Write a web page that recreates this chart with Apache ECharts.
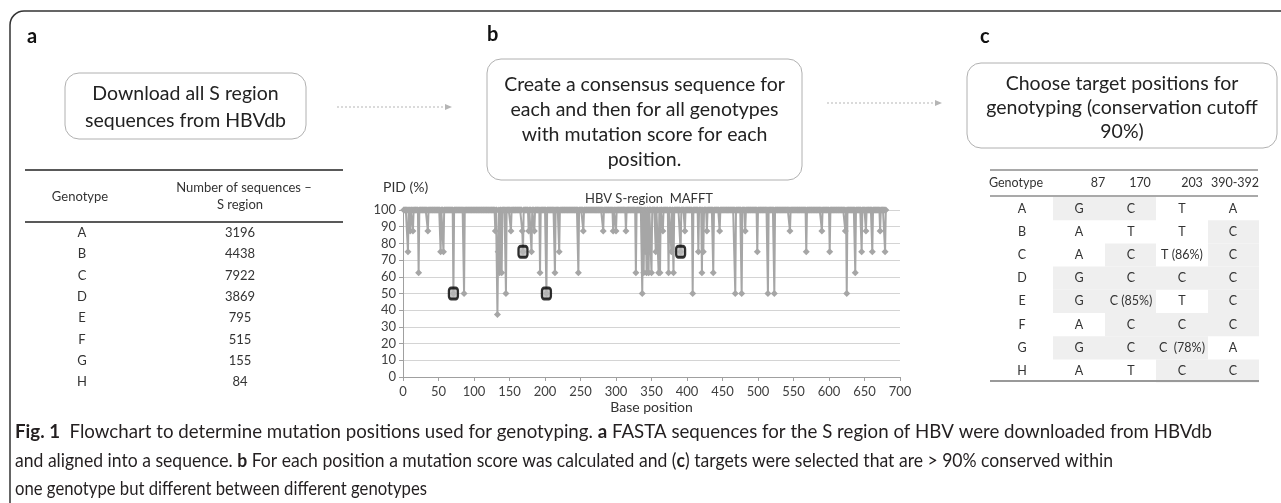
<!DOCTYPE html>
<html>
<head>
<meta charset="utf-8">
<script src="https://cdn.jsdelivr.net/npm/echarts@6/dist/echarts.min.js"></script>
<style>
html,body{margin:0;padding:0;background:#fff;}
#main{width:1281px;height:503px;}
</style>
</head>
<body>
<div id="main"></div>
<script>
// ---- panel b : PID per base position (100 everywhere except the dips below)
var seqLength = 680;
var dips = [
    [7,75],[10,87.5],[14,87.5],[22,62.5],[35,87.5],[53,75],[57,75],[71,50],[86,50],
    [130,87.5],[133,37.5],[134,75],[136,62.5],[139,62.5],[145,50],[152,87.5],
    [168,87.5],[169,75],[177,87.5],[181,75],[185,87.5],[193,62.5],[202,50],[214,62.5],[220,75],
    [247,62.5],[254,87.5],[282,87.5],[296,87.5],[300,87.5],[314,87.5],[328,62.5],
    [337,50],[339,62.5],[341,75],[343,62.5],[346,62.5],[350,62.5],[356,75],[360,62.5],[362,62.5],
    [366,87.5],[374,62.5],[378,75],[381,62.5],[391,75],[397,87.5],[408,50],[416,75],[421,62.5],
    [423,75],[428,87.5],[437,62.5],[446,87.5],[468,50],[477,50],[482,87.5],[499,75],[514,50],
    [523,50],[545,87.5],[568,75],[590,87.5],[601,75],[623,87.5],[625,50],[637,62.5],[646,75],
    [652,87.5],[661,75],[672,87.5],[679,75]
];
// highlighted target positions (black boxes)
var targets = [[71,50],[169,75],[202,50],[391,75]];

// ---- panel a : sequences per genotype
var genotypes = ['A','B','C','D','E','F','G','H'];
var seqCounts = [3196,4438,7922,3869,795,515,155,84];

// ---- panel c : target positions
var targetCols = ['87','170','203','390-392'];
var targetRows = [
    ['G','C','T','A'],
    ['A','T','T','C'],
    ['A','C','T (86%)','C'],
    ['G','C','C','C'],
    ['G','C (85%)','T','C'],
    ['A','C','C','C'],
    ['G','C','C  (78%)','A'],
    ['A','T','C','C']
];

var boxA = ['Download all S region','sequences from HBVdb'];
var boxB = ['Create a consensus sequence for','each and then for all genotypes','with mutation score for each','position.'];
var boxC = ['Choose target positions for','genotyping (conservation cutoff','90%)'];

var caption = [
    [['Fig. 1',1],['  Flowchart to determine mutation positions used for genotyping. ',0],['a',1],[' FASTA sequences for the S region of HBV were downloaded from HBVdb',0]],
    [['and aligned into a sequence. ',0],['b',1],[' For each position a mutation score was calculated and (',0],['c',1],[') targets were selected that are > 90% conserved within',0]],
    [['one genotype but different between different genotypes',0]]
];
var captionWidths = [1197,1098,412];

var dipMap = {};
dips.forEach(function(d){ dipMap[d[0]] = d[1]; });
var pid = [];
for (var p = 1; p <= seqLength; p++) {
    pid.push([p, dipMap[p] !== undefined ? dipMap[p] : 100]);
}

var FONT = 'Lato, "Open Sans", sans-serif';
var g = [];

// outer frame
g.push({type:'rect', shape:{x:10,y:11,width:1400,height:700,r:[14,0,0,0]}, style:{fill:null,stroke:'#333',lineWidth:1.5}});

function label(t, x, y){
    g.push({type:'text', x:x, y:y, style:{text:t, font:'bold 20px '+FONT, fill:'#111', verticalAlign:'middle'}});
}
label('a',27,37); label('b',487,35); label('c',980,37);

function box(x, y, w, h, lines, y0, step){
    g.push({type:'rect', shape:{x:x,y:y,width:w,height:h,r:14}, style:{fill:'#fff',stroke:'#b0b0b0',lineWidth:1}});
    lines.forEach(function(t, i){
        g.push({type:'text', x:x+w/2, y:y0+i*step, style:{text:t, font:'19.5px '+FONT, fill:'#222', align:'center', verticalAlign:'middle'}});
    });
}
box(65,73,241,66,boxA,94,27);
box(487,59,315,121,boxB,85,25);
box(967,63,310,85,boxC,84,24);

function arrow(x1, x2, y){
    g.push({type:'line', shape:{x1:x1,y1:y,x2:x2-6,y2:y}, style:{stroke:'#b5b5b5',lineWidth:1,lineDash:[2,2]}});
    g.push({type:'polygon', shape:{points:[[x2-7,y-3],[x2,y],[x2-7,y+3]]}, style:{fill:'#b5b5b5'}});
}
arrow(337,452,107);
arrow(827,942,103);

// table a
function txt(t, x, y, size, align){
    g.push({type:'text', x:x, y:y, style:{text:t, font:size+'px '+FONT, fill:'#333', align:align||'center', verticalAlign:'middle'}});
}
g.push({type:'line', shape:{x1:25,y1:170,x2:343,y2:170}, style:{stroke:'#222',lineWidth:1.5}});
g.push({type:'line', shape:{x1:25,y1:222,x2:343,y2:222}, style:{stroke:'#222',lineWidth:1.5}});
txt('Genotype',80,197,13);
txt('Number of sequences \u2013',244,188,13);
txt('S region',240,205,13);
genotypes.forEach(function(gt, i){
    txt(gt,82,233+i*21.3,13);
    txt(String(seqCounts[i]),240,233+i*21.3,13);
});

// table c
var colEdges = [1053,1105,1156,1208,1259];
var colX = [1079,1131,1182,1233];
var headX = [1098,1140,1192,1235];
var rowTop = 197, rowH = 23.2;
targetRows.forEach(function(row, i){
    row.forEach(function(v, j){
        if (v.charAt(0) === 'C' || v.charAt(0) === 'G') {
            g.push({type:'rect', shape:{x:colEdges[j],y:rowTop+i*rowH,width:colEdges[j+1]-colEdges[j],height:rowH}, style:{fill:'#efefef'}});
        }
    });
});
g.push({type:'line', shape:{x1:990,y1:170,x2:1258,y2:170}, style:{stroke:'#555',lineWidth:1.2}});
g.push({type:'line', shape:{x1:990,y1:196,x2:1258,y2:196}, style:{stroke:'#555',lineWidth:1.2}});
g.push({type:'line', shape:{x1:990,y1:381,x2:1259,y2:381}, style:{stroke:'#999',lineWidth:2}});
txt('Genotype',1016,183,12.5);
targetCols.forEach(function(c, j){ txt(c, headX[j], 183, 12.5); });
targetRows.forEach(function(row, i){
    var y = rowTop + i*rowH + rowH/2;
    txt(genotypes[i],1022,y,12.5);
    row.forEach(function(v, j){ txt(v, colX[j], y, 12.5); });
});

// caption, squeezed to the measured width of each line
var ctx = document.createElement('canvas').getContext('2d');
caption.forEach(function(line, li){
    var xs = 0, kids = [];
    line.forEach(function(seg){
        var f = (seg[1] ? 'bold ' : '') + '19px ' + FONT;
        ctx.font = f;
        kids.push({type:'text', x:xs, y:0, style:{text:seg[0], font:f, fill:'#231f20', verticalAlign:'middle'}});
        xs += ctx.measureText(seg[0]).width;
    });
    g.push({type:'group', x:15, y:432+li*28.5, scaleX:captionWidths[li]/xs, children:kids});
});

g.push({type:'text', x:383, y:187, style:{text:'PID (%)', font:'14px '+FONT, fill:'#333', verticalAlign:'middle'}});

var chart = echarts.init(document.getElementById('main'));
chart.setOption({
    animation:false,
    title:{text:'HBV S-region  MAFFT', left:644, top:187, textAlign:'center',
        textStyle:{fontFamily:FONT, fontSize:13, fontWeight:'normal', color:'#333'}},
    grid:{left:403, right:381, top:210, bottom:126},
    xAxis:{type:'value', min:0, max:700, interval:50,
        name:'Base position', nameLocation:'middle', nameGap:23,
        nameTextStyle:{fontFamily:FONT, fontSize:14, color:'#333'},
        axisLine:{lineStyle:{color:'#a0a0a0'}},
        axisTick:{length:4, lineStyle:{color:'#a0a0a0'}},
        axisLabel:{fontFamily:FONT, fontSize:13, color:'#404040', margin:8},
        splitLine:{show:false}},
    yAxis:{type:'value', min:0, max:100, interval:10,
        axisLine:{show:true, lineStyle:{color:'#a0a0a0'}},
        axisTick:{show:true, length:4, lineStyle:{color:'#a0a0a0'}},
        axisLabel:{fontFamily:FONT, fontSize:13, color:'#404040', margin:7},
        splitLine:{lineStyle:{color:'#d4d4d4', width:1}}},
    series:[
        {type:'line', data:pid, symbol:'diamond', symbolSize:7, showSymbol:true,
            lineStyle:{color:'#a6a6a6', width:2}, itemStyle:{color:'#a6a6a6'}, z:2},
        {type:'scatter', data:targets, symbol:'roundRect', symbolSize:[9,11],
            itemStyle:{color:'#b8b8b8', borderColor:'#000', borderWidth:2.5}, z:5}
    ],
    graphic:g
});
</script>
</body>
</html>
